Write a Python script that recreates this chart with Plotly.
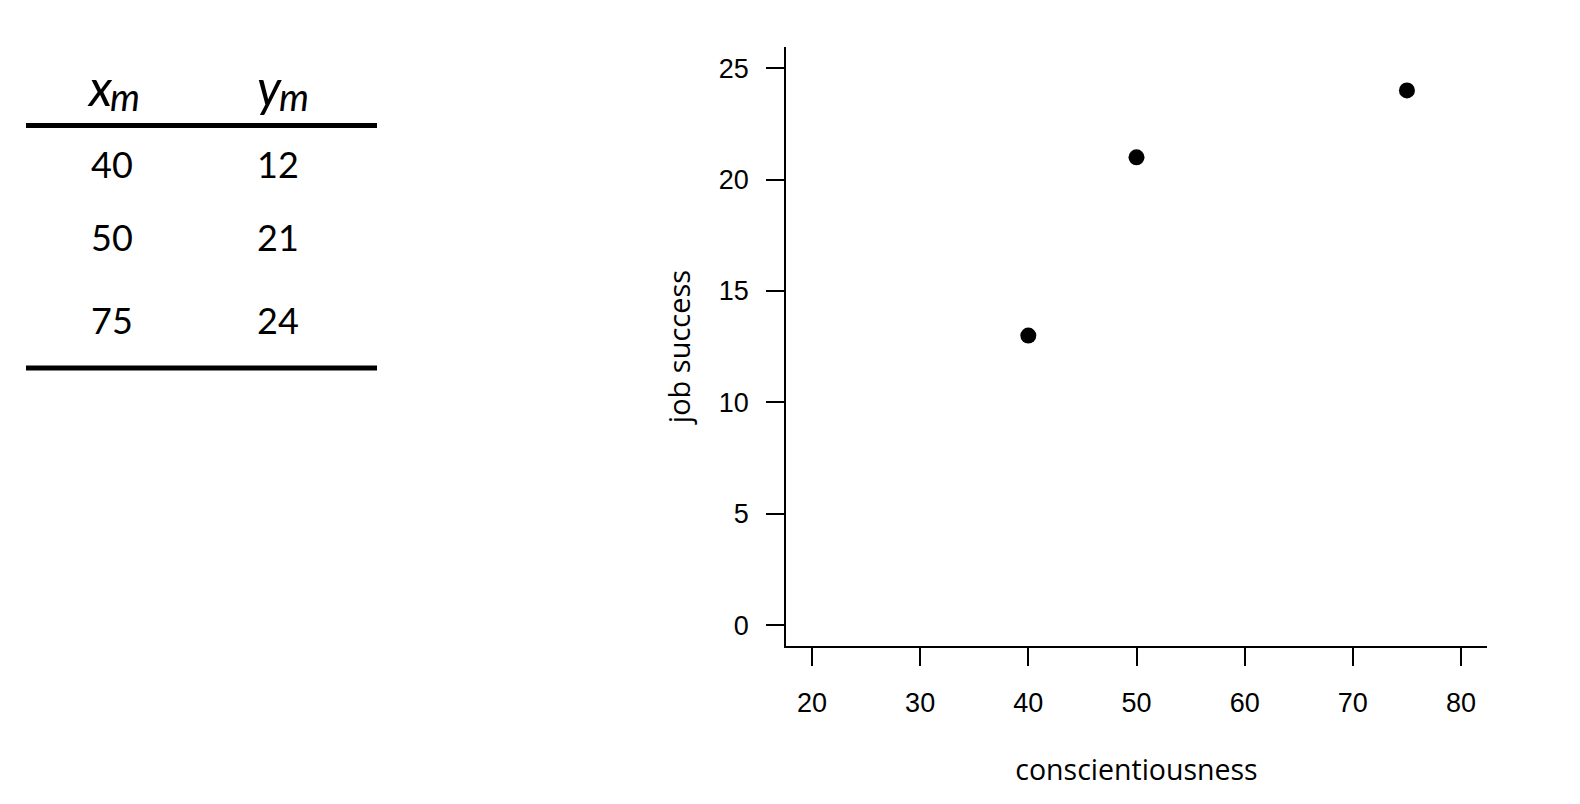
import plotly.graph_objects as go

# ---- data ----
conscientiousness = [40, 50, 75]
job_success = [13, 21, 24]

table_xm = ["40", "50", "75"]
table_ym = ["12", "21", "24"]

x_ticks = [20, 30, 40, 50, 60, 70, 80]
y_ticks = [0, 5, 10, 15, 20, 25]

# page has an 8px body margin; figure is sized to fit the window
OFF = 8
W, H = 1580 - OFF, 804 - OFF
PL, PR, PT, PB = 786, 1487, 47, 646   # plot area in page pixels
L, T = PL - OFF, PT - OFF
PW, PH = PR - PL, PB - PT
R, B = W - L - PW, H - T - PH


def px(x):
    return (x - PL) / PW


def py(y):
    return 1 - (y - PT) / PH


fig = go.Figure()
fig.add_trace(go.Scatter(
    x=conscientiousness, y=job_success, mode="markers",
    marker=dict(size=16, color="black", line=dict(width=0)),
    showlegend=False, hoverinfo="x+y",
))

tick_font = dict(family="Liberation Sans, Arial, sans-serif", size=27, color="black")
title_family = "Open Sans, Noto Sans, sans-serif"
fig.update_xaxes(
    range=[17.6, 82.4], tickvals=x_ticks, showgrid=False, zeroline=False,
    showline=True, linecolor="black", linewidth=1.5,
    ticks="outside", ticklen=18, tickwidth=1.5, tickcolor="black",
    tickfont=tick_font, ticklabelstandoff=14,
    title=dict(text="conscientiousness", font=dict(family=title_family, size=28.5, color="black"), standoff=43),
)
fig.update_yaxes(
    range=[-0.93, 25.95], tickvals=y_ticks, showgrid=False, zeroline=False,
    showline=True, linecolor="black", linewidth=1.5,
    ticks="outside", ticklen=18, tickwidth=1.5, tickcolor="black",
    tickfont=tick_font, ticklabelstandoff=12,
    title=dict(text="job success", font=dict(family=title_family, size=29, color="black"), standoff=20),
)

# ---- table on the left ----
tfont = "Lato, Open Sans, sans-serif"
for letter, cx in [("x", 100), ("y", 269)]:
    fig.add_annotation(x=px(cx), y=py(87), xref="paper", yref="paper",
                       text="<i>%s</i>" % letter, showarrow=False,
                       font=dict(family=tfont, size=50, color="black"),
                       xanchor="center", yanchor="middle")
    fig.add_annotation(x=px(cx + 25), y=py(96), xref="paper", yref="paper",
                       text="<i>m</i>", showarrow=False,
                       font=dict(family=tfont, size=38, color="black"),
                       xanchor="center", yanchor="middle")

row_y = [164, 237, 320.5]
for xm, ym, ry in zip(table_xm, table_ym, row_y):
    fig.add_annotation(x=px(112), y=py(ry), xref="paper", yref="paper",
                       text=xm, showarrow=False,
                       font=dict(family=tfont, size=36, color="black"),
                       xanchor="center", yanchor="middle")
    fig.add_annotation(x=px(278), y=py(ry), xref="paper", yref="paper",
                       text=ym, showarrow=False,
                       font=dict(family=tfont, size=36, color="black"),
                       xanchor="center", yanchor="middle")

for ry in [125.5, 368]:
    fig.add_shape(type="line", xref="paper", yref="paper",
                  x0=px(26), x1=px(377), y0=py(ry), y1=py(ry),
                  line=dict(color="black", width=5))

fig.update_layout(
    width=W, height=H,
    margin=dict(l=L, r=R, t=T, b=B, autoexpand=False),
    plot_bgcolor="white", paper_bgcolor="white",
)

fig.write_html("out.html")
